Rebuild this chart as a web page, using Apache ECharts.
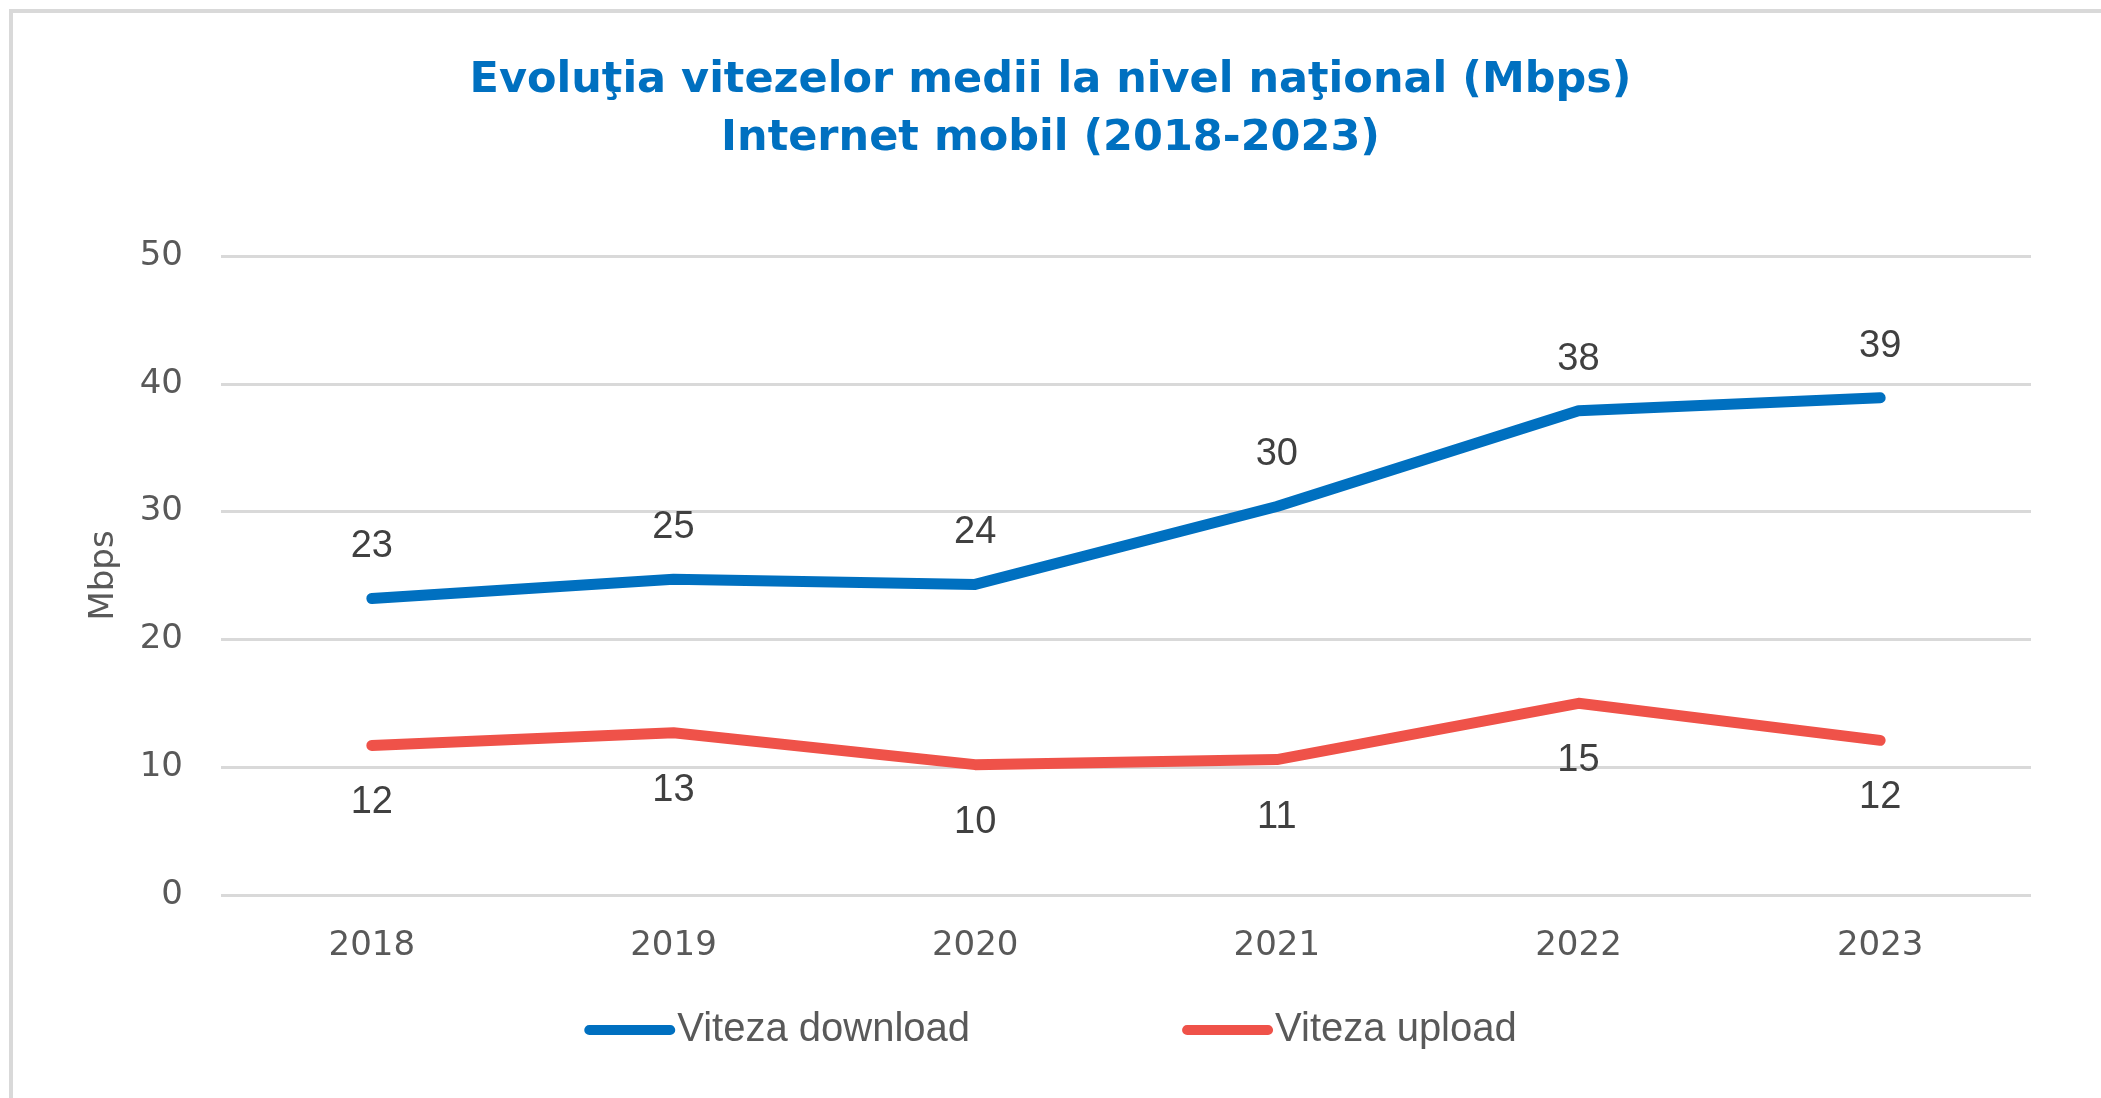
<!DOCTYPE html>
<html>
<head>
<meta charset="utf-8">
<script src="https://cdn.jsdelivr.net/npm/echarts@6/dist/echarts.min.js"></script>
<style>
  html, body { margin: 0; padding: 0; background: #fff; }
  #main { width: 2101px; height: 1098px; }
</style>
</head>
<body>
<div id="main"></div>
<script>
const years = ['2018', '2019', '2020', '2021', '2022', '2023'];
const download = [23.2, 24.7, 24.3, 30.4, 37.9, 38.9];
const upload = [11.7, 12.7, 10.2, 10.6, 15.0, 12.1];
const yTicks = { min: 0, max: 50, interval: 10 };

const blue = '#0070C0';
const red = '#EF5249';

const chart = echarts.init(document.getElementById('main'));
const option = {
    backgroundColor: '#fff',
    animation: false,
    graphic: [{
        type: 'rect',
        shape: { x: 11, y: 11, width: 2200, height: 1200 },
        style: { fill: 'none', stroke: '#d9d9d9', lineWidth: 4 },
        silent: true
    }],
    title: {
        text: 'Evoluţia vitezelor medii la nivel naţional (Mbps)\nInternet mobil (2018-2023)',
        left: 'center',
        top: 47,
        textStyle: {
            fontFamily: 'DejaVu Sans',
            fontWeight: 'bold',
            fontSize: 43,
            lineHeight: 58,
            color: blue
        }
    },
    legend: {
        left: 'center',
        top: 1005,
        itemWidth: 91,
        itemHeight: 11,
        itemGap: 212,
        icon: 'path://M5,0 H85 A5,5 0 0 1 85,10 H5 A5,5 0 0 1 5,0 Z',
        textStyle: {
            fontFamily: 'Liberation Sans',
            fontSize: 40,
            color: '#595959',
            padding: [0, 0, 0, -3]
        },
        data: ['Viteza download', 'Viteza upload']
    },
    grid: {
        left: 221,
        right: 70,
        top: 256,
        bottom: 203
    },
    xAxis: {
        type: 'category',
        data: years,
        boundaryGap: true,
        axisLine: { show: false },
        axisTick: { show: false },
        axisLabel: {
            margin: 34,
            fontFamily: 'DejaVu Sans',
            fontSize: 34,
            color: '#595959'
        }
    },
    yAxis: {
        type: 'value',
        min: yTicks.min,
        max: yTicks.max,
        interval: yTicks.interval,
        name: 'Mbps',
        nameLocation: 'middle',
        nameGap: 100,
        nameRotate: 90,
        nameTextStyle: {
            fontFamily: 'DejaVu Sans',
            fontSize: 34,
            color: '#595959'
        },
        axisLine: { show: false },
        axisTick: { show: false },
        axisLabel: {
            margin: 38,
            fontFamily: 'DejaVu Sans',
            fontSize: 34,
            color: '#595959'
        },
        splitLine: { lineStyle: { color: '#d9d9d9', width: 3 } }
    },
    series: [
        {
            name: 'Viteza download',
            type: 'line',
            data: download,
            symbol: 'circle',
            symbolSize: 1,
            itemStyle: { color: blue },
            lineStyle: { color: blue, width: 11, cap: 'round', join: 'round' },
            label: {
                show: true,
                position: 'top',
                distance: 32,
                fontFamily: 'Liberation Sans',
                fontSize: 38,
                color: '#404040',
                formatter: p => Math.round(p.value)
            }
        },
        {
            name: 'Viteza upload',
            type: 'line',
            data: upload,
            symbol: 'circle',
            symbolSize: 1,
            itemStyle: { color: red },
            lineStyle: { color: red, width: 11, cap: 'round', join: 'round' },
            label: {
                show: true,
                position: 'bottom',
                distance: 38,
                fontFamily: 'Liberation Sans',
                fontSize: 38,
                color: '#404040',
                formatter: p => Math.round(p.value)
            }
        }
    ]
};
chart.setOption(option);
</script>
</body>
</html>
